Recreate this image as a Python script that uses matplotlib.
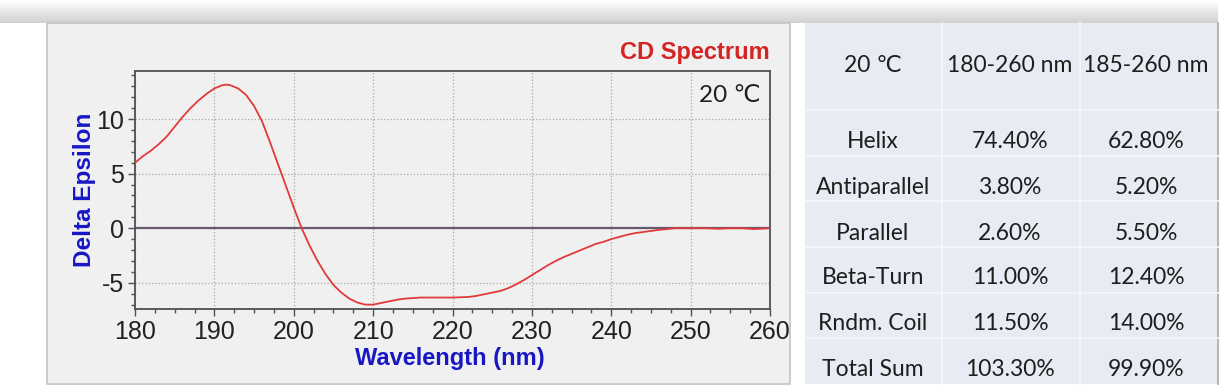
import matplotlib.pyplot as plt
import numpy as np
from matplotlib.patches import Rectangle
from matplotlib.ticker import MultipleLocator

plt.rcParams['axes.unicode_minus'] = False

# CD spectrum
wavelength = [180, 181, 182, 183, 184, 185, 186, 187, 188, 189, 190, 191, 191.5, 192, 193,
              194, 195, 196, 197, 198, 199, 200, 201, 202, 203, 204, 205, 206, 207, 208,
              209, 210, 211, 212, 213, 214, 216, 218, 220, 222, 223, 224, 225, 226, 227, 228,
              229, 230, 231, 232, 233, 234, 235, 236, 237, 238, 239, 240, 241, 242, 243, 244,
              245, 246, 247, 248, 250, 252, 253.5, 255, 256.5, 258, 260]
delta_eps = [6.0, 6.6, 7.1, 7.7, 8.4, 9.3, 10.2, 11.0, 11.7, 12.3, 12.8, 13.1, 13.15, 13.1, 12.8,
             12.2, 11.2, 9.8, 7.9, 5.9, 3.9, 1.9, 0.0, -1.6, -3.0, -4.2, -5.2, -5.9, -6.45, -6.8,
             -7.0, -7.0, -6.85, -6.7, -6.55, -6.45, -6.35, -6.35, -6.35, -6.3, -6.2, -6.05, -5.9,
             -5.75, -5.5, -5.15, -4.75, -4.3, -3.85, -3.4, -3.0, -2.65, -2.35, -2.05, -1.75,
             -1.45, -1.25, -1.0, -0.8, -0.6, -0.45, -0.35, -0.25, -0.15, -0.08, 0.0, 0.0, 0.0,
             -0.05, 0.0, 0.0, -0.08, 0.0]

# secondary structure table
col_head = ['20 ℃', '180-260 nm', '185-260 nm']
structures = ['Helix', 'Antiparallel', 'Parallel', 'Beta-Turn', 'Rndm. Coil', 'Total Sum']
range_180 = ['74.40%', '3.80%', '2.60%', '11.00%', '11.50%', '103.30%']
range_185 = ['62.80%', '5.20%', '5.50%', '12.40%', '14.00%', '99.90%']

W, H = 1225, 389
fig = plt.figure(figsize=(W / 100, H / 100), dpi=100)
fig.patch.set_facecolor('white')

# background / frames in pixel coordinates
bg = fig.add_axes([0, 0, 1, 1])
bg.set_xlim(0, W)
bg.set_ylim(H, 0)
bg.axis('off')
grad = np.linspace(1.0, 0.82, 50).reshape(-1, 1)
bg.imshow(np.dstack([grad, grad, grad]), extent=[0, 1218, 23, 0], aspect='auto', zorder=0)
bg.add_patch(Rectangle((47, 23), 743, 361, facecolor='#f0f0f0', edgecolor='#c4c4c4', lw=1.2))
bg.text(770, 52, 'CD Spectrum', color='#d42424', fontsize=17, fontweight='bold',
        family='Liberation Sans', ha='right', va='center')
bg.text(85, 190, 'Delta Epsilon', color='#1717c4', fontsize=17.5, fontweight='bold',
        family='Liberation Sans', rotation=90, ha='center', va='center')
bg.text(450, 358, 'Wavelength (nm)', color='#1717c4', fontsize=17, fontweight='bold',
        family='Liberation Sans', ha='center', va='center')

# table
bg.add_patch(Rectangle((805, 23), 413, 361, facecolor='#e8ebf3', edgecolor='none'))
bg.plot([1218, 1218], [23, 384], color='#a8a8a8', lw=1.2)
for xl in [942, 1080]:
    bg.plot([xl, xl], [23, 384], color='#f6f7fb', lw=1.2)
for yl in [110, 156, 201, 247, 293, 338]:
    bg.plot([805, 1218], [yl, yl], color='#f6f7fb', lw=1.2)
col_x = [873, 1010, 1146]
tfont = dict(fontsize=16.5, family=['Lato', 'DejaVu Sans'], color='#1e1e1e', ha='center', va='center')
for cx, txt in zip(col_x, col_head):
    bg.text(cx, 65, txt, **tfont)
row_y = [141, 187, 233, 278, 324, 369]
for ry, s, a, b in zip(row_y, structures, range_180, range_185):
    bg.text(col_x[0], ry, s, **tfont)
    bg.text(col_x[1], ry, a, **tfont)
    bg.text(col_x[2], ry, b, **tfont)

# plot area
ax = fig.add_axes([135 / W, 1 - 309 / H, 635 / W, 238 / H])
ax.set_facecolor('#f0f0f0')
ax.set_xlim(180, 260)
ax.set_ylim(-7.4, 14.4)
ax.xaxis.set_major_locator(MultipleLocator(10))
ax.xaxis.set_minor_locator(MultipleLocator(2.5))
ax.yaxis.set_major_locator(MultipleLocator(5))
ax.yaxis.set_minor_locator(MultipleLocator(1))
ax.grid(True, which='major', linestyle=':', color='#a8a8a8', lw=0.9)
ax.axhline(0, color='#6a5a70', lw=1.6, zorder=2)
ax.plot(wavelength, delta_eps, color='#e03a3a', lw=1.3, zorder=3)
for sp in ax.spines.values():
    sp.set_color('#505050')
    sp.set_linewidth(1.3)
ax.tick_params(which='major', direction='out', length=5, width=1, color='#505050',
               labelsize=18, labelcolor='#222222', pad=3)
ax.tick_params(which='minor', direction='out', length=3, width=1, color='#505050')
for lab in ax.get_xticklabels() + ax.get_yticklabels():
    lab.set_family('Liberation Sans')
ax.text(0.985, 0.895, '20 ℃', transform=ax.transAxes, fontsize=17.5,
        family=['Lato', 'DejaVu Sans'], color='#1e1e1e', ha='right', va='center')

fig.savefig('out.png', dpi=100)
